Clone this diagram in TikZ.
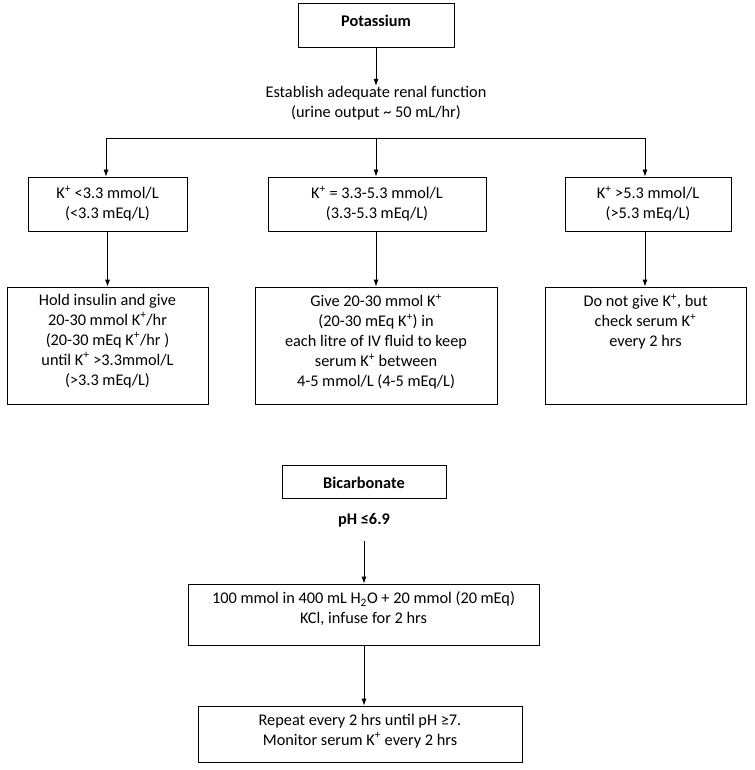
\documentclass[tikz,border=0pt]{standalone}
\usepackage{fontspec}
\setmainfont{Carlito}
\usetikzlibrary{arrows.meta}
\begin{document}
\begin{tikzpicture}[x=1pt,y=-1pt,
  box/.style={draw,line width=0.8pt,inner sep=0pt},
  txt/.style={align=center,inner sep=0pt,font=\fontsize{16.3}{20}\selectfont},
  btxt/.style={align=center,inner sep=0pt,font=\fontsize{16.3}{20}\selectfont\bfseries},
  arr/.style={line width=0.8pt,-{Latex[length=7pt,width=5pt]}},
  ln/.style={line width=0.8pt}]
\useasboundingbox (0,0) rectangle (754,770);
% Potassium
\node[box,minimum width=156pt,minimum height=44pt] (pot) at (376,25) {};
\node[btxt,anchor=north] (pott) at ([yshift=-12pt]pot.north) {Potassium};
\node[txt] (est) at (376,103) {Establish adequate renal function\\(urine output \textasciitilde{} 50 mL/hr)};
\draw[arr] (pot.south) -- (est.north);
\coordinate (hL) at (106,138);
\coordinate (hM) at (376,138);
\coordinate (hR) at (645,138);
\draw[ln] (hL) -- (hR);
% Row 1
\node[box,minimum width=159pt,minimum height=54pt] (a1) at (107.5,204) {};
\node[box,minimum width=218pt,minimum height=54pt] (a2) at (377,204) {};
\node[box,minimum width=166pt,minimum height=54pt] (a3) at (648,204) {};
\node[txt] (a1t) at (a1.center) {K\textsuperscript{+} <3.3 mmol/L\\(<3.3 mEq/L)};
\node[txt] (a2t) at (a2.center) {K\textsuperscript{+} = 3.3-5.3 mmol/L\\(3.3-5.3 mEq/L)};
\node[txt] (a3t) at (a3.center) {K\textsuperscript{+} >5.3 mmol/L\\(>5.3 mEq/L)};
\draw[arr] (hL) -- (hL |- a1.north);
\draw[arr] (hM) -- (hM |- a2.north);
\draw[arr] (hR) -- (hR |- a3.north);
% Row 2
\node[box,minimum width=201pt,minimum height=117pt] (b1) at (107.5,345.5) {};
\node[box,minimum width=242pt,minimum height=117pt] (b2) at (376,345.5) {};
\node[box,minimum width=201pt,minimum height=117pt] (b3) at (645.5,345.5) {};
\node[txt,anchor=north] (b1t) at ([yshift=-7pt]b1.north) {Hold insulin and give\\20-30 mmol K\textsuperscript{+}/hr\\(20-30 mEq K\textsuperscript{+}/hr )\\until K\textsuperscript{+} >3.3mmol/L\\(>3.3 mEq/L)};
\node[txt,anchor=north] (b2t) at ([yshift=-7pt]b2.north) {Give 20-30 mmol K\textsuperscript{+}\\(20-30 mEq K\textsuperscript{+}) in\\each litre of IV fluid to keep\\serum K\textsuperscript{+} between\\4-5 mmol/L (4-5 mEq/L)};
\node[txt,anchor=north] (b3t) at ([yshift=-7pt]b3.north) {Do not give K\textsuperscript{+}, but\\check serum K\textsuperscript{+}\\every 2 hrs};
\draw[arr] (a1.south) -- (a1.south |- b1.north);
\draw[arr] (hM |- a2.south) -- (hM |- b2.north);
\draw[arr] (hR |- a3.south) -- (hR |- b3.north);
% Bicarbonate
\node[box,minimum width=164pt,minimum height=33pt] (c0) at (364,481.5) {};
\node[btxt] (c0t) at ([yshift=-1pt]c0.center) {Bicarbonate};
\node[btxt] (ph) at (364,520) {pH ≤6.9};
\node[box,minimum width=351pt,minimum height=61pt] (c1) at (363.5,614.5) {};
\node[txt,anchor=north] (c1t) at ([yshift=-8pt]c1.north) {100 mmol in 400 mL H\textsubscript{2}O + 20 mmol (20 mEq)\\KCl, infuse for 2 hrs};
\node[box,minimum width=324pt,minimum height=56pt] (c2) at (360,734) {};
\node[txt,anchor=north] (c2t) at ([yshift=-8pt]c2.north) {Repeat every 2 hrs until pH ≥7.\\Monitor serum K\textsuperscript{+} every 2 hrs};
\coordinate (phs) at (364,541);
\draw[arr] (phs) -- (phs |- c1.north);
\draw[arr] (phs |- c1.south) -- (phs |- c2.north);
\end{tikzpicture}
\end{document}
